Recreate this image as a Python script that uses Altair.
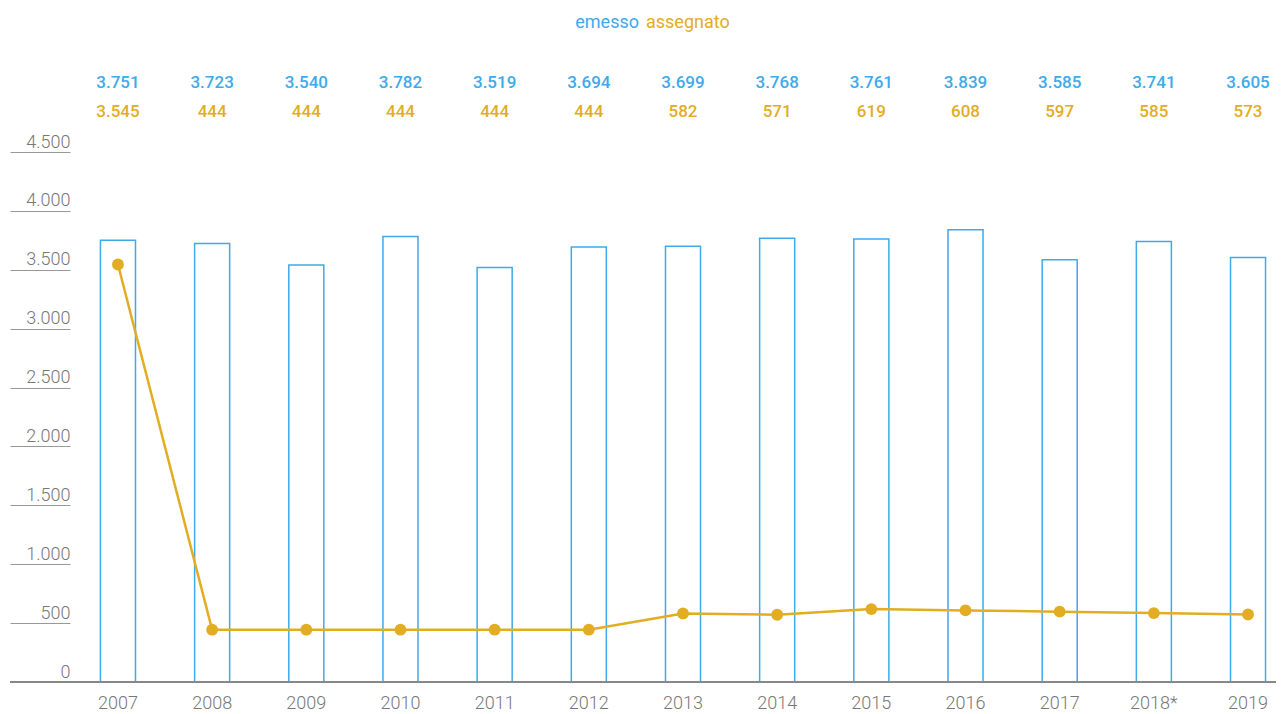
import altair as alt
import pandas as pd

years = ["2007", "2008", "2009", "2010", "2011", "2012", "2013", "2014", "2015", "2016", "2017", "2018*", "2019"]
emesso = [3751, 3723, 3540, 3782, 3519, 3694, 3699, 3768, 3761, 3839, 3585, 3741, 3605]
assegnato = [3545, 444, 444, 444, 444, 444, 582, 571, 619, 608, 597, 585, 573]
y_ticks = [0, 500, 1000, 1500, 2000, 2500, 3000, 3500, 4000, 4500]

BLUE = "#3eaaeb"
GOLD = "#e2ad23"
GRAY = "#777777"
FONT = "Roboto"


def it_fmt(v):
    return f"{v:,}".replace(",", ".")


df = pd.DataFrame({
    "anno": years,
    "emesso": emesso,
    "assegnato": assegnato,
    "emesso_lbl": [it_fmt(v) for v in emesso],
    "assegnato_lbl": [it_fmt(v) for v in assegnato],
})

W, H = 1186, 530

x = alt.X("anno:N", sort=years, title=None,
          scale=alt.Scale(paddingInner=0.628, paddingOuter=0.111),
          axis=alt.Axis(labelAngle=0, ticks=False, domain=False, labelPadding=12,
                        labelFontSize=18, labelColor=GRAY, labelFont=FONT,
                        labelFontWeight=300))

y = alt.Y("emesso:Q", title=None,
          scale=alt.Scale(domain=[0, 4500], nice=False),
          axis=alt.Axis(values=y_ticks, offset=20, tickSize=60, labelPadding=-60,
                        labelAlign="right", labelBaseline="alphabetic", labelOffset=-5,
                        grid=False, domain=False, tickColor="#999999", tickWidth=1,
                        labelFontSize=18, labelColor=GRAY, labelFont=FONT,
                        labelFontWeight=300, labelExpr="replace(format(datum.value, ','), ',', '.')"))

base = alt.Chart(df)

bars = base.mark_bar(fill="white", stroke=BLUE, strokeWidth=1.5).encode(x=x, y=y)

line = base.mark_line(color=GOLD, strokeWidth=2.5).encode(
    x=alt.X("anno:N", sort=years), y=alt.Y("assegnato:Q"))

points = base.mark_circle(color=GOLD, size=140, opacity=1).encode(
    x=alt.X("anno:N", sort=years), y=alt.Y("assegnato:Q"))

baseline = base.mark_rule(color="#888888", strokeWidth=1.5).encode(
    y=alt.datum(0), x=alt.value(-80), x2=alt.value(W + 10))

lbl_blue = base.mark_text(color=BLUE, fontSize=17, fontWeight=500, font=FONT,
                          baseline="middle").encode(
    x=alt.X("anno:N", sort=years), y=alt.value(-69), text="emesso_lbl:N")

lbl_gold = base.mark_text(color=GOLD, fontSize=17, fontWeight=500, font=FONT,
                          baseline="middle").encode(
    x=alt.X("anno:N", sort=years), y=alt.value(-40), text="assegnato_lbl:N")

leg_df = pd.DataFrame({"k": ["emesso"]})
leg1 = alt.Chart(leg_df).mark_text(color=BLUE, fontSize=18, font=FONT, align="right",
                                   baseline="middle").encode(
    x=alt.value(549), y=alt.value(-129), text=alt.value("emesso"))
leg2 = alt.Chart(leg_df).mark_text(color=GOLD, fontSize=18, font=FONT, align="left",
                                   baseline="middle").encode(
    x=alt.value(556), y=alt.value(-129), text=alt.value("assegnato"))

chart = alt.layer(bars, baseline, line, points, lbl_blue, lbl_gold, leg1, leg2).properties(
    width=W, height=H,
    padding={"left": 82, "top": 144, "right": 0, "bottom": 32},
    autosize=alt.AutoSizeParams(type="none"),
).configure_view(stroke=None)

chart.save("out.html", embed_options={"renderer": "svg", "actions": False})
